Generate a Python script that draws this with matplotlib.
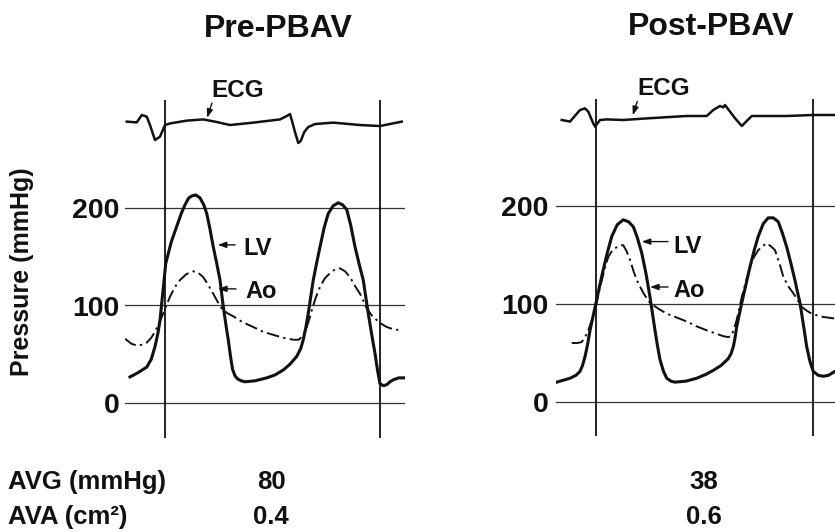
import matplotlib.pyplot as plt

plt.rcParams['font.family'] = ['Liberation Sans', 'DejaVu Sans']
plt.rcParams['font.weight'] = 'bold'

# time in ms from the first vertical marker, pressure in mmHg, ECG in mV
titles = ['Pre-PBAV', 'Post-PBAV']
yticks = [0, 100, 200]
row_labels = ['AVG (mmHg)', 'AVA (cm²)']
avg_values = ['80', '38']
ava_values = ['0.4', '0.6']
beat_marks = [[0, 860], [0, 867]]

pre_lv_t = [-140, -110, -73, -55, -40, -28, -20, -10, 3, 25, 47, 65, 80, 95, 107, 123, 140,
            155, 167, 180, 193, 207, 220, 233, 245, 253, 262, 270, 280, 290, 305, 320, 360,
            407, 440, 473, 500, 527, 543, 553, 563, 573, 593, 607, 620, 637, 653, 673, 693,
            710, 727, 743, 760, 777, 793, 813, 827, 840, 850, 860, 873, 887, 900, 913, 935, 960]
pre_lv_p = [27, 31, 37, 45, 58, 72, 85, 110, 143, 165, 181, 194, 203, 210, 212, 213, 210,
            203, 194, 178, 160, 143, 126, 99, 78, 65, 48, 35, 28, 25, 23, 22, 23,
            26, 29, 34, 40, 48, 56, 65, 77, 92, 126, 144, 160, 180, 194, 202, 205,
            203, 198, 182, 160, 142, 126, 92, 70, 51, 34, 20, 18, 19, 22, 24, 26, 26]

pre_ao_t = [-160, -135, -113, -90, -73, -55, -40, -20, -7, 5, 20, 40, 60, 85, 113, 135, 153,
            173, 193, 210, 227, 250, 273, 310, 353, 393, 433, 473, 513, 535, 547, 557, 567,
            577, 587, 603, 620, 640, 660, 680, 700, 720, 740, 760, 780, 795, 807, 827, 847,
            867, 887, 910, 933]
pre_ao_p = [66, 61, 59, 60, 62, 67, 73, 84, 92, 100, 109, 119, 126, 132, 135, 133, 129,
            121, 112, 104, 97, 92, 89, 83, 78, 73, 70, 67, 65, 65, 68, 72, 78,
            86, 95, 108, 119, 128, 133, 137, 138, 135, 129, 120, 112, 104, 97, 90, 85,
            81, 78, 76, 75]

post_lv_t = [-157, -130, -104, -80, -64, -54, -44, -34, -24, -12, 0, 15, 29, 45, 63, 85, 109,
             130, 149, 165, 183, 200, 216, 226, 236, 246, 256, 270, 283, 300, 316, 360, 403,
             440, 469, 500, 529, 540, 549, 556, 563, 573, 583, 600, 616, 633, 649, 669, 689,
             709, 729, 746, 763, 780, 796, 806, 816, 830, 843, 856, 869, 889, 909, 930, 956]
post_lv_p = [20, 22, 24, 27, 31, 37, 46, 58, 73, 87, 101, 119, 135, 152, 169, 181, 186,
             184, 179, 168, 152, 131, 107, 90, 73, 57, 43, 31, 24, 21, 20, 21, 24,
             28, 32, 37, 44, 49, 56, 65, 77, 89, 101, 120, 138, 155, 169, 182, 188,
             188, 184, 172, 158, 141, 124, 112, 101, 78, 56, 41, 31, 27, 26, 27, 31]

post_ao_t = [-97, -75, -57, -44, -31, -17, -4, 10, 23, 36, 49, 66, 83, 100, 109, 122, 136,
             152, 169, 192, 216, 250, 283, 323, 363, 403, 443, 476, 509, 530, 543, 553, 563,
             573, 583, 600, 616, 632, 649, 666, 683, 699, 716, 733, 749, 769, 789, 806, 823,
             843, 863, 900, 956]
post_ao_p = [60, 60, 61, 66, 73, 83, 94, 110, 124, 137, 148, 155, 158, 160, 160, 154, 145,
             132, 121, 110, 101, 95, 90, 86, 82, 77, 73, 70, 67, 66, 68, 75, 84,
             95, 107, 123, 138, 148, 155, 159, 162, 159, 155, 142, 128, 118, 111, 104, 97,
             93, 90, 87, 85]

pre_ecg_t = [-153, -113, -93, -73, -60, -40, -20, 0, 20, 87, 153, 200, 260, 353, 460, 487,
             500, 507, 520, 533, 543, 557, 573, 600, 673, 780, 860, 947]
pre_ecg_mv = [0.02, -0.02, 0.35, 0.27, -0.15, -0.9, -0.73, -0.15, -0.07, 0.07, 0.13, 0.02,
              -0.15, -0.03, 0.13, 0.3, 0.4, 0.1, -0.5, -1.05, -0.95, -0.5, -0.25, -0.1,
              -0.03, -0.15, -0.2, 0.02]

post_ecg_t = [-137, -104, -64, -44, -31, -11, -4, 16, 43, 109, 216, 363, 443, 469, 496, 509,
              516, 556, 583, 623, 763, 869, 956]
post_ecg_mv = [0.1, 0.02, 0.6, 0.68, 0.52, -0.07, -0.23, 0.1, 0.13, 0.1, 0.19, 0.3, 0.3,
               0.6, 0.8, 0.73, 0.85, 0.19, -0.2, 0.3, 0.3, 0.35, 0.35]

panels = [
    dict(lv=(pre_lv_t, pre_lv_p), ao=(pre_ao_t, pre_ao_p), ecg=(pre_ecg_t, pre_ecg_mv),
         left=125, zero_px=403.3, ecg_base=287.6, pad=4,
         lv_txt=(312, 151.6), lv_arrow=((280, 162), (211, 162)),
         ao_txt=(320, 107.7), ao_arrow=((284, 117), (212, 117)),
         ecg_txt=(292, 313.5), ecg_arrow=((188, 307), (168, 292))),
    dict(lv=(post_lv_t, post_lv_p), ao=(post_ao_t, post_ao_p), ecg=(post_ecg_t, post_ecg_mv),
         left=556, zero_px=401.7, ecg_base=286.0, pad=5.5,
         lv_txt=(308, 152.3), lv_arrow=((288, 163.7), (183, 163.7)),
         ao_txt=(308, 107.4), ao_arrow=((288, 117.3), (216, 117.3)),
         ecg_txt=(272, 313.6), ecg_arrow=((165, 307), (147, 293))),
]

W, H = 835, 532
px_per_mmhg = 0.978
ecg_gain = 20 / px_per_mmhg
ink = '#111111'

fig = plt.figure(figsize=(W / 100, H / 100), dpi=100)

for i, pn in enumerate(panels):
    ax = fig.add_axes([pn['left'] / W, 1 - 440 / H, 280 / W, 370 / H])
    ax.set_xlim(-160, 960)
    ax.set_ylim((pn['zero_px'] - 440) / px_per_mmhg, (pn['zero_px'] - 70) / px_per_mmhg)
    for s in ax.spines.values():
        s.set_visible(False)
    ax.set_xticks([])
    ax.set_yticks(yticks)
    ax.set_yticklabels([str(v) for v in yticks])
    ax.tick_params(axis='y', length=0, pad=pn['pad'], labelsize=20.5, labelcolor=ink)
    for v in yticks:
        ax.axhline(v, color='#333333', lw=0.9)
    ax.vlines(beat_marks[i], -35, 310, color=ink, lw=1.3)

    ax.plot(*pn['lv'], color=ink, lw=2.2, solid_joinstyle='round')
    ax.plot(*pn['ao'], color=ink, lw=1.4, linestyle=(0, (6.5, 2.2, 1.2, 2.2)))
    et, ev = pn['ecg']
    ax.plot(et, [pn['ecg_base'] + ecg_gain * v for v in ev], color=ink, lw=1.8,
            solid_joinstyle='round')

    arrow = dict(arrowstyle='-|>,head_length=0.5,head_width=0.18', color=ink, lw=1.0,
                 shrinkA=0, shrinkB=0)
    ax.text(*pn['lv_txt'], 'LV', fontsize=17, ha='left', va='baseline', color=ink)
    ax.annotate('', xy=pn['lv_arrow'][1], xytext=pn['lv_arrow'][0], arrowprops=arrow)
    ax.text(*pn['ao_txt'], 'Ao', fontsize=17, ha='left', va='baseline', color=ink)
    ax.annotate('', xy=pn['ao_arrow'][1], xytext=pn['ao_arrow'][0], arrowprops=arrow)
    ax.text(*pn['ecg_txt'], 'ECG', fontsize=17.5, ha='center', va='baseline', color=ink)
    ax.annotate('', xy=pn['ecg_arrow'][1], xytext=pn['ecg_arrow'][0], arrowprops=arrow)

fig.text(278 / W, 1 - 36.7 / H, titles[0], fontsize=23, ha='center', va='baseline', color=ink)
fig.text(711.5 / W, 1 - 35 / H, titles[1], fontsize=23, ha='center', va='baseline', color=ink)
fig.text(22 / W, 1 - 271.5 / H, 'Pressure (mmHg)', fontsize=18, rotation=90,
         ha='center', va='center', color=ink)

for j, (lab, vals) in enumerate(zip(row_labels, [avg_values, ava_values])):
    base = [489, 524][j]
    fig.text(8 / W, 1 - base / H, lab, fontsize=18.5, ha='left', va='baseline', color=ink)
    fig.text(271 / W, 1 - base / H, vals[0], fontsize=18.5, ha='center', va='baseline', color=ink)
    fig.text(704 / W, 1 - base / H, vals[1], fontsize=18.5, ha='center', va='baseline', color=ink)

fig.savefig('out.png', dpi=100, facecolor='white')
